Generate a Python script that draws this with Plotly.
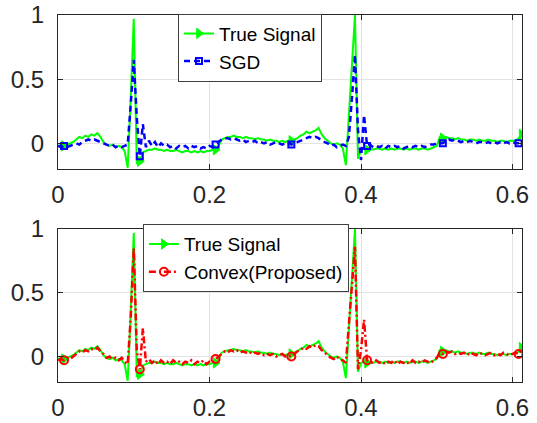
import plotly.graph_objects as go

fs = 250.0  # samples per second
true_signal = [
    -0.02, -0.01, -0.02, -0.01, 0.00, 0.01, 0.03, 0.05, 0.04, 0.06,
    0.05, 0.07, 0.06, 0.08, 0.05, 0.01, -0.01, -0.02, -0.01, -0.03,
    -0.02, -0.03, -0.06, -0.19, 0.35, 0.97, -0.16, -0.14, -0.07, -0.06,
    -0.05, -0.05, -0.04, -0.05, -0.05, -0.06, -0.05, -0.06, -0.06, -0.05,
    -0.06, -0.07, -0.06, -0.06, -0.07, -0.06, -0.07, -0.06, -0.07, -0.06,
    -0.06, -0.05, -0.05, -0.02, 0.03, 0.04, 0.05, 0.05, 0.06, 0.05,
    0.05, 0.04, 0.05, 0.04, 0.04, 0.03, 0.04, 0.03, 0.03, 0.02,
    0.03, 0.02, 0.02, 0.01, 0.02, 0.01, 0.02, 0.02, 0.03, 0.04,
    0.06, 0.07, 0.09, 0.08, 0.09, 0.10, 0.12, 0.07, 0.04, 0.02,
    0.00, -0.01, 0.00, -0.01, -0.04, -0.17, 0.20, 0.62, 1.00, -0.12,
    -0.05, -0.04, -0.05, -0.04, -0.05, -0.04, -0.04, -0.05, -0.04, -0.05,
    -0.04, -0.05, -0.04, -0.04, -0.05, -0.04, -0.05, -0.04, -0.04, -0.05,
    -0.04, -0.04, -0.05, -0.04, -0.03, -0.02, 0.05, 0.04, 0.05, 0.04,
    0.04, 0.03, 0.04, 0.03, 0.03, 0.02, 0.03, 0.03, 0.02, 0.03,
    0.02, 0.02, 0.03, 0.02, 0.02, 0.01, 0.02, 0.02, 0.01, 0.02,
    0.02, 0.02, 0.04, 0.07,
]
sgd = [
    -0.02, -0.03, -0.02, -0.03, -0.02, -0.01, 0.00, -0.01, 0.01, 0.02,
    0.03, 0.02, 0.03, 0.02, 0.01, 0.00, -0.01, -0.02, -0.01, -0.03,
    -0.02, -0.03, -0.02, -0.01, 0.30, 0.65, 0.20, -0.10, 0.15, -0.03,
    0.02, -0.02, 0.01, -0.03, 0.00, -0.02, -0.01, -0.03, -0.02, -0.04,
    -0.02, -0.03, -0.02, -0.04, -0.02, -0.03, -0.02, -0.04, -0.03, -0.04,
    -0.02, -0.03, -0.01, 0.01, 0.03, 0.04, 0.04, 0.03, 0.04, 0.03,
    0.02, 0.03, 0.01, 0.02, 0.01, 0.02, 0.00, 0.01, 0.00, 0.01,
    -0.01, 0.00, 0.01, 0.00, -0.01, 0.00, 0.01, -0.01, 0.00, 0.01,
    0.02, 0.03, 0.04, 0.05, 0.04, 0.05, 0.04, 0.02, 0.01, 0.00,
    -0.02, -0.01, -0.03, -0.02, -0.01, -0.02, 0.05, 0.35, 0.69, 0.10,
    -0.13, 0.22, -0.02, -0.01, -0.03, -0.02, -0.03, -0.02, -0.04, -0.02,
    -0.03, -0.02, -0.03, -0.02, -0.04, -0.03, -0.02, -0.03, -0.02, -0.03,
    -0.02, -0.03, -0.02, -0.01, -0.01, 0.00, 0.00, 0.00, 0.02, 0.03,
    0.02, 0.03, 0.02, 0.01, 0.02, 0.01, 0.02, 0.01, 0.00, 0.01,
    0.01, 0.00, 0.01, 0.00, 0.01, 0.00, 0.01, 0.00, 0.01, 0.00,
    0.01, 0.00, 0.00, 0.00,
]
convex = [
    -0.03, -0.02, -0.03, -0.01, -0.02, 0.00, 0.02, 0.04, 0.03, 0.05,
    0.04, 0.06, 0.05, 0.07, 0.04, 0.02, -0.01, 0.00, -0.02, -0.01,
    -0.03, -0.01, -0.04, -0.06, 0.30, 0.85, 0.05, -0.10, 0.22, -0.04,
    -0.02, -0.05, -0.03, -0.06, -0.03, -0.05, -0.04, -0.06, -0.03, -0.05,
    -0.04, -0.06, -0.04, -0.05, -0.03, -0.06, -0.04, -0.05, -0.03, -0.06,
    -0.04, -0.05, -0.02, 0.00, 0.02, 0.04, 0.03, 0.05, 0.04, 0.05,
    0.03, 0.04, 0.03, 0.04, 0.02, 0.03, 0.02, 0.03, 0.01, 0.02,
    0.01, 0.02, 0.00, 0.01, 0.02, 0.00, 0.01, 0.00, 0.02, 0.04,
    0.05, 0.07, 0.06, 0.08, 0.07, 0.09, 0.08, 0.05, 0.03, 0.01,
    -0.01, -0.02, 0.00, -0.02, -0.03, -0.05, 0.25, 0.60, 0.86, -0.10,
    0.05, 0.29, -0.03, -0.04, -0.05, -0.03, -0.05, -0.04, -0.06, -0.04,
    -0.05, -0.03, -0.06, -0.04, -0.05, -0.04, -0.06, -0.03, -0.05, -0.04,
    -0.05, -0.03, -0.04, -0.05, -0.03, -0.01, 0.03, 0.02, 0.04, 0.03,
    0.04, 0.02, 0.03, 0.02, 0.03, 0.01, 0.03, 0.02, 0.01, 0.03,
    0.02, 0.01, 0.02, 0.03, 0.01, 0.02, 0.01, 0.03, 0.02, 0.01,
    0.02, 0.03, 0.02, 0.05,
]
marker_idx_est = [2, 27, 52, 77, 102, 127, 152]
marker_idx_true = [2, 27, 52, 77, 102, 127, 153]
x_ticks = [0, 0.2, 0.4, 0.6]
x_ticklabels = ["0", "0.2", "0.4", "0.6"]
y_ticks = [0, 0.5, 1]
y_ticklabels = ["0", "0.5", "1"]
legend_top = ["True Signal", "SGD"]
legend_bottom = ["True Signal", "Convex(Proposed)"]

t = [i / fs for i in range(len(true_signal))]

GREEN = "#00ff00"
BLUE = "#0000ff"
RED = "#ff0000"
AX = "#262626"
FONT = "Liberation Sans, Arial, Helvetica, sans-serif"

fig = go.Figure()

def add_series(xa, ya, y, idx, color, dash, width, symbol, msize, name, legend, filled):
    fig.add_trace(go.Scatter(x=t, y=y, mode="lines", xaxis=xa, yaxis=ya,
                             line=dict(color=color, width=width, dash=dash),
                             showlegend=False, hoverinfo="skip"))
    mk = dict(symbol=symbol, size=msize, color=color,
              line=dict(color=color, width=2 if not filled else 1))
    fig.add_trace(go.Scatter(x=[t[i] for i in idx], y=[y[i] for i in idx],
                             mode="markers", xaxis=xa, yaxis=ya, marker=mk,
                             showlegend=False, hoverinfo="skip"))
    fig.add_trace(go.Scatter(x=[None], y=[None], mode="lines+markers",
                             xaxis=xa, yaxis=ya, name=name, legend=legend,
                             line=dict(color=color, width=width, dash=dash),
                             marker=mk))

add_series("x", "y", true_signal, marker_idx_true, GREEN, "solid", 2,
           "triangle-right", 9, legend_top[0], "legend", True)
add_series("x", "y", sgd, marker_idx_est, BLUE, "6px,4px", 2.5,
           "square-open", 6, legend_top[1], "legend", False)
add_series("x2", "y2", true_signal, marker_idx_true, GREEN, "solid", 2,
           "triangle-right", 9, legend_bottom[0], "legend2", True)
add_series("x2", "y2", convex, marker_idx_est, RED, "7px,3px,2px,3px", 2.5,
           "circle-open", 8, legend_bottom[1], "legend2", False)

xax = dict(range=[0, 0.6125], tickvals=x_ticks, ticktext=x_ticklabels,
           showline=True, linecolor=AX, linewidth=1, mirror="ticks",
           ticks="inside", ticklen=5, tickcolor=AX, tickwidth=1,
           showgrid=True, gridcolor="#e3e3e3", gridwidth=1, zeroline=False,
           automargin=False,
           tickfont=dict(size=24, color=AX, family=FONT), ticklabelstandoff=4)
yax = dict(range=[-0.2, 1], tickvals=y_ticks, ticktext=y_ticklabels,
           showline=True, linecolor=AX, linewidth=1, mirror="ticks",
           ticks="inside", ticklen=5, tickcolor=AX, tickwidth=1,
           showgrid=True, gridcolor="#e3e3e3", gridwidth=1, zeroline=False,
           automargin=False,
           tickfont=dict(size=24, color=AX, family=FONT), ticklabelstandoff=8)

fig.update_layout(
    width=537, height=423,
    margin=dict(l=58, r=15, t=15, b=41, autoexpand=False),
    paper_bgcolor="white", plot_bgcolor="white",
    font=dict(family=FONT, color=AX),
    xaxis=dict(xax, domain=[0, 1], anchor="y"),
    yaxis=dict(yax, domain=[0.5804, 1], anchor="x"),
    xaxis2=dict(xax, domain=[0, 1], anchor="y2"),
    yaxis2=dict(yax, domain=[0, 0.4169], anchor="x2"),
    legend=dict(x=0.2586, y=1.004, xanchor="left", yanchor="top",
                bgcolor="white", bordercolor="#404040", borderwidth=1,
                font=dict(size=19, color="black", family=FONT),
                itemwidth=30, tracegroupgap=0),
    legend2=dict(x=0.183, y=0.430, xanchor="left", yanchor="top",
                 bgcolor="white", bordercolor="#404040", borderwidth=1,
                 font=dict(size=19, color="black", family=FONT),
                 itemwidth=30, tracegroupgap=0),
)

fig.write_html("out.html")
